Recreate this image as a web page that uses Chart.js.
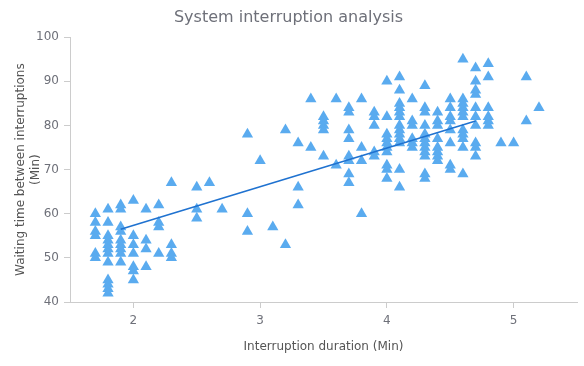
<!DOCTYPE html>
<html>
<head>
<meta charset="utf-8">
<title>System interruption analysis</title>
<script src="https://cdn.jsdelivr.net/npm/chart.js@4"></script>
<style>
  html, body { margin: 0; padding: 0; background: #fff; }
  #wrap { width: 584px; height: 366px; }
</style>
</head>
<body>
<div id="wrap"><canvas id="chart" width="584" height="366"></canvas></div>
<script>
// interruption durations (Min), one column of points per duration
const durations = [1.7, 1.8, 1.9, 2.0, 2.1, 2.2, 2.3, 2.5, 2.6, 2.7, 2.9, 3.0, 3.1, 3.2, 3.3, 3.4, 3.5, 3.6,
  3.7, 3.8, 3.9, 4.0, 4.1, 4.2, 4.3, 4.4, 4.5, 4.6, 4.7, 4.8, 4.9, 5.0, 5.1, 5.2];

// waiting times (Min) observed for each duration above
const waits = [
  [60, 58, 56, 55, 51, 50],
  [61, 58, 55, 54, 53, 52, 51, 49, 45, 44, 43, 42],
  [62, 61, 57, 56, 54, 53, 52, 51, 49],
  [63, 55, 53, 51, 48, 47, 45],
  [61, 54, 52, 48],
  [62, 58, 57, 51],
  [67, 53, 51, 50],
  [66, 61, 59],
  [67],
  [61],
  [78, 60, 56],
  [72],
  [57],
  [79, 53],
  [76, 66, 62],
  [86, 75],
  [82, 81, 80, 79, 73],
  [86, 71],
  [84, 83, 79, 77, 73, 72, 69, 67],
  [86, 75, 72, 60],
  [83, 82, 80, 74, 73],
  [90, 82, 78, 77, 76, 75, 74, 71, 70, 68],
  [91, 88, 85, 84, 83, 82, 80, 79, 78, 77, 76, 70, 66],
  [86, 81, 80, 77, 76, 75],
  [89, 84, 83, 80, 78, 77, 76, 75, 74, 73, 69, 68],
  [83, 81, 80, 77, 75, 74, 73, 72],
  [86, 84, 82, 81, 79, 76, 71, 70],
  [95, 86, 85, 84, 83, 82, 79, 78, 77, 75, 69],
  [93, 90, 88, 87, 84, 82, 80, 76, 75, 73],
  [94, 91, 84, 82, 81, 80],
  [76],
  [76],
  [91, 81],
  [84]
];

// trend line end points
const trendX = [1.9, 4.7];
const trendY = [56.5, 81];

const xTicks = [2, 3, 4, 5];
const yTicks = [40, 50, 60, 70, 80, 90, 100];

const points = [];
durations.forEach((d, i) => {
  waits[i].forEach(w => points.push({ x: d, y: w }));
});
const trend = trendX.map((x, i) => ({ x: x, y: trendY[i] }));

const FONT = "'DejaVu Sans', Verdana, sans-serif";
const axisColor = '#cccccc';
const textColor = '#6e7079';

new Chart(document.getElementById('chart'), {
  type: 'scatter',
  data: {
    datasets: [{
      label: 'Interruptions',
      data: points,
      pointStyle: 'triangle',
      pointRadius: 6.5,
      backgroundColor: '#5aabef',
      borderColor: '#5aabef',
      borderWidth: 0,
      order: 2
    }, {
      type: 'line',
      label: 'Trend',
      data: trend,
      borderColor: '#1f72d0',
      borderWidth: 1.6,
      pointRadius: 0,
      fill: false,
      order: 1
    }]
  },
  options: {
    responsive: false,
    animation: false,
    layout: { padding: { left: 0, right: 7, top: 0, bottom: 0 } },
    plugins: {
      legend: { display: false },
      tooltip: { enabled: false },
      title: {
        display: true,
        text: 'System interruption analysis',
        color: '#6e7079',
        font: { family: FONT, size: 16, weight: 'normal' },
        padding: { top: 8, bottom: 10 }
      }
    },
    scales: {
      x: {
        type: 'linear',
        min: 1.5,
        max: 5.5,
        afterBuildTicks: s => { s.ticks = xTicks.map(v => ({ value: v })); },
        afterFit: s => { s.height = 64; },
        grid: { drawOnChartArea: false, drawTicks: true, tickLength: 6, color: axisColor },
        border: { color: axisColor },
        ticks: { color: textColor, padding: 6, font: { family: FONT, size: 12 } },
        title: {
          display: true,
          text: 'Interruption duration (Min)',
          color: '#555',
          font: { family: FONT, size: 12 },
          padding: { top: 0, bottom: 12 }
        }
      },
      y: {
        min: 40,
        max: 100,
        afterBuildTicks: s => { s.ticks = yTicks.map(v => ({ value: v })); },
        afterFit: s => { s.width = 70; },
        grid: { drawOnChartArea: false, drawTicks: true, tickLength: 6, color: axisColor },
        border: { color: axisColor },
        ticks: { color: textColor, padding: 5, font: { family: FONT, size: 12 } },
        title: {
          display: true,
          text: ['Waiting time between interruptions', '(Min)'],
          color: '#555',
          font: { family: FONT, size: 12 },
          padding: { top: 14, bottom: 0 }
        }
      }
    }
  }
});
</script>
</body>
</html>
